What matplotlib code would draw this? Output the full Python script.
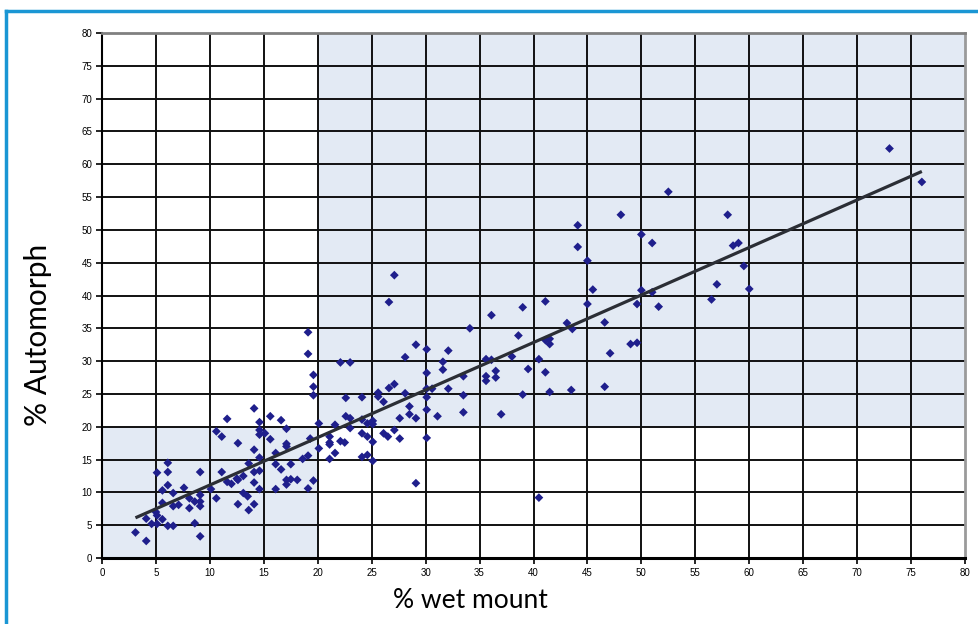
import matplotlib
matplotlib.use("Agg")
import matplotlib.pyplot as plt
from matplotlib.patches import Rectangle
from matplotlib.lines import Line2D

# sample values: % wet mount (x) vs % Automorph (y)
wet_mount = [3.1, 4.1, 4.1, 4.6, 5.1, 5.0, 5.1, 5.6, 6.1, 6.6, 5.1, 6.1, 6.1, 6.1, 5.6,
             5.6, 6.6, 6.6, 7.1, 7.6, 8.1, 8.1, 8.6, 9.1, 9.1, 9.1, 9.1, 9.1, 8.6,
             10.1, 10.6, 10.6, 11.1, 11.1, 11.6, 11.6, 12.0, 12.6, 12.6, 12.6, 12.5, 13.1, 13.1,
             13.5, 13.6, 13.6, 14.1, 14.1, 14.1, 14.1, 14.1, 14.6, 14.6, 14.6, 14.6, 14.6, 14.6,
             15.1, 15.6, 15.6, 16.1, 16.1, 16.1, 16.6, 16.6, 17.1, 17.1, 17.1, 17.1, 17.1, 17.5,
             17.5, 18.1, 18.6, 19.1, 19.1, 19.6, 19.3,
             19.1, 19.1, 19.6, 19.6, 19.6, 20.1, 20.1,
             21.1, 21.1, 21.1, 21.1, 21.6, 21.6, 22.1, 22.1, 22.5, 22.6, 22.6, 23.0, 23.0, 23.0,
             24.1, 24.1, 24.1, 24.1, 24.6, 24.6, 24.6, 25.1, 25.1, 25.1, 25.1, 25.6, 25.6, 26.1,
             26.1, 26.5, 26.6, 26.6, 27.1, 27.1, 27.1, 27.6, 27.6, 28.1, 28.1, 28.5, 28.5, 29.1,
             29.1, 29.1, 30.1, 30.1, 30.1, 30.1, 30.1, 30.1, 30.6, 31.1, 31.6, 31.6, 32.1, 32.1,
             33.5, 33.5, 33.5, 34.1, 35.6, 35.6, 35.6, 36.1, 36.1, 36.5, 36.5, 37.0, 38.0, 38.6,
             39.0, 39.0, 39.5, 40.5, 40.5, 41.1, 41.1, 41.1, 41.5, 41.5, 41.5,
             43.1, 43.6, 43.5, 44.1, 44.1, 45.0, 45.0, 45.5, 46.6, 46.6, 47.1, 48.1, 49.0, 49.6,
             49.6, 50.0, 50.0, 51.0, 51.0, 51.6, 52.5, 56.5, 57.0, 58.0, 58.5, 59.0, 59.5, 60.0,
             73.0, 76.0]
automorph = [3.9, 2.6, 6.0, 5.2, 5.2, 7.0, 6.5, 5.9, 4.9, 4.9, 13.0, 14.5, 13.1, 11.1, 10.3,
             8.4, 9.9, 7.9, 8.1, 10.7, 7.6, 9.1, 5.3, 3.3, 13.1, 9.6, 8.6, 7.9, 8.6,
             10.5, 9.1, 19.3, 18.5, 13.1, 21.2, 11.6, 11.3, 17.5, 11.9, 8.2, 12.1, 12.5, 9.9,
             9.4, 7.3, 14.4, 22.8, 16.5, 13.1, 11.5, 8.2, 20.7, 19.5, 18.8, 15.3, 13.3, 10.5,
             19.0, 21.6, 18.1, 16.0, 14.3, 10.5, 21.0, 13.5, 19.7, 17.4, 17.0, 11.9, 11.2, 14.3,
             12.0, 11.9, 15.1, 15.6, 10.6, 11.8, 18.2,
             34.4, 31.1, 27.9, 26.1, 24.8, 20.5, 16.7,
             18.5, 17.6, 17.3, 15.1, 20.3, 16.0, 29.8, 17.8, 17.6, 24.4, 21.6, 29.8, 21.3, 19.8,
             24.5, 21.1, 19.0, 15.4, 20.5, 18.5, 15.7, 20.9, 20.4, 17.7, 14.8, 25.2, 24.6, 23.8,
             19.0, 18.5, 39.0, 25.9, 43.1, 26.5, 19.5, 21.3, 18.2, 30.6, 25.1, 23.1, 21.9, 32.5,
             21.3, 11.4, 31.8, 28.2, 25.8, 24.5, 22.6, 18.3, 25.8, 21.6, 29.9, 28.7, 31.6, 25.8,
             27.7, 24.8, 22.2, 35.0, 30.3, 27.7, 27.0, 37.0, 30.2, 28.5, 27.5, 21.9, 30.7, 33.9,
             38.2, 24.9, 28.8, 30.3, 9.2, 39.1, 28.3, 33.2, 33.4, 32.6, 25.3,
             35.8, 34.9, 25.6, 50.7, 47.4, 45.3, 38.7, 40.9, 35.9, 26.1, 31.2, 52.3, 32.6, 32.8,
             38.7, 49.3, 40.8, 48.0, 40.5, 38.3, 55.8, 39.4, 41.7, 52.3, 47.6, 48.0, 44.5, 41.0,
             62.4, 57.3]

# linear trend line
trend_slope = 0.724
trend_intercept = 3.88

ticks = list(range(0, 85, 5))

fig = plt.figure(figsize=(9.79, 6.24), dpi=100)
ax = fig.add_axes([102 / 979, 66 / 624, 863 / 979, 525 / 624])

shade = "#e3eaf4"
ax.add_patch(Rectangle((0, 0), 20, 20, facecolor=shade, edgecolor="none", zorder=0))
ax.add_patch(Rectangle((20, 20), 60, 60, facecolor=shade, edgecolor="none", zorder=0))

for t in ticks[1:-1]:
    ax.axhline(t, color="#111111", lw=1.4, zorder=1)
    ax.axvline(t, color="#111111", lw=1.4, zorder=1)

ax.scatter(wet_mount, automorph, marker="D", s=20, color="#1f1f8c", edgecolors="none", zorder=3)

x0, x1 = min(wet_mount), max(wet_mount)
ax.plot([x0, x1], [trend_slope * x0 + trend_intercept, trend_slope * x1 + trend_intercept],
        color="#2b2e35", lw=2.3, zorder=4, solid_capstyle="butt")

ax.set_xlim(0, 80)
ax.set_ylim(0, 80)
ax.set_xticks(ticks)
ax.set_yticks(ticks)
ax.tick_params(direction="out", length=4, width=1.2, labelsize=7, pad=3, colors="black")
for lab in ax.get_xticklabels() + ax.get_yticklabels():
    lab.set_family("Liberation Sans")

ax.spines["left"].set_linewidth(1.5)
ax.spines["bottom"].set_linewidth(2.2)
ax.spines["top"].set_color("#808080")
ax.spines["top"].set_linewidth(2)
ax.spines["right"].set_color("#9a9a9a")
ax.spines["right"].set_linewidth(2)

fig.text(38 / 979, 1 - 335 / 624, "% Automorph", rotation=90, ha="center", va="center",
         fontsize=21.5, family="Lato")
fig.text(470 / 979, 1 - 600 / 624, "% wet mount", ha="center", va="center",
         fontsize=19, family="Lato")

# blue frame along left and top edges
border = "#1a96d4"
fig.add_artist(Line2D([6 / 979, 6 / 979], [0, 1 - 11 / 624], transform=fig.transFigure,
                      color=border, lw=2.5))
fig.add_artist(Line2D([6 / 979, 1], [1 - 11 / 624, 1 - 11 / 624], transform=fig.transFigure,
                      color=border, lw=2.5))

fig.savefig("out.png", dpi=100)
